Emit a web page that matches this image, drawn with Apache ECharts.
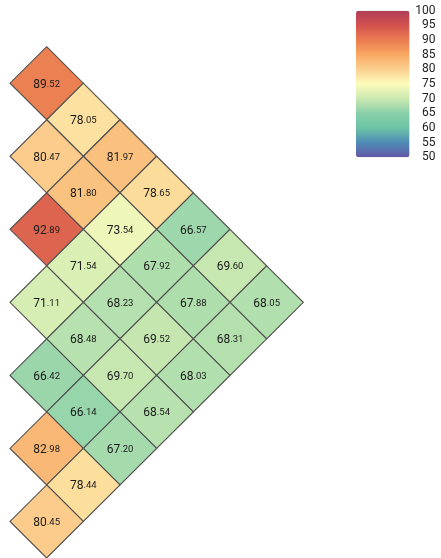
<!DOCTYPE html>
<html>
<head>
<meta charset="utf-8">
<script src="https://cdn.jsdelivr.net/npm/echarts@6/dist/echarts.min.js"></script>
<style>
html,body{margin:0;padding:0;background:#fff;}
#chart{width:441px;height:558px;}
</style>
</head>
<body>
<div id="chart"></div>
<script>
// Lower-triangular matrix values; row i holds columns j = 0..i
const row0 = [89.52];
const row1 = [78.05, 80.47];
const row2 = [81.97, 81.80, 92.89];
const row3 = [78.65, 73.54, 71.54, 71.11];
const row4 = [66.57, 67.92, 68.23, 68.48, 66.42];
const row5 = [69.60, 67.88, 69.52, 69.70, 66.14, 82.98];
const row6 = [68.05, 68.31, 68.03, 68.54, 67.20, 78.44, 80.45];
const rows = [row0, row1, row2, row3, row4, row5, row6];

const colorMin = 50;
const colorMax = 100;
const colorTickStep = 5;
const palette = ['#6358a5', '#4f8bb6', '#6cc3a5', '#88cfa9', '#cbe9b0', '#fdfcbd',
                 '#fbd08f', '#f8a863', '#ea7c50', '#d4524f', '#b03e58'];

const data = [];
rows.forEach(function (r, i) {
  r.forEach(function (v, j) { data.push([i, j, v]); });
});

const chart = echarts.init(document.getElementById('chart'), null, {renderer: 'canvas'});
const FONT = 'Roboto, "Liberation Sans", sans-serif';

chart.setOption({
  animation: false,
  backgroundColor: '#ffffff',
  grid: [
    {left: 10, top: 46.7, width: 293.3, height: 513.3},
    {left: 356, top: 10.7, width: 53.5, height: 146.6}
  ],
  xAxis: [
    {type: 'value', gridIndex: 0, min: -1, max: 7, show: false},
    {type: 'value', gridIndex: 1, min: 0, max: 1, show: false}
  ],
  yAxis: [
    {type: 'value', gridIndex: 0, min: -1, max: 13, inverse: true, show: false},
    {type: 'value', gridIndex: 1, min: colorMin, max: colorMax, interval: colorTickStep,
     position: 'right', axisLine: {show: false}, axisTick: {show: false}, splitLine: {show: false},
     axisLabel: {show: true, align: 'right', margin: 26, color: '#222', fontSize: 12, fontFamily: FONT}}
  ],
  visualMap: {
    type: 'continuous',
    min: colorMin, max: colorMax,
    dimension: 2,
    seriesIndex: 0,
    calculable: false,
    left: 356, top: 10.7,
    padding: 0,
    itemWidth: 53.5, itemHeight: 146.6,
    text: null,
    inRange: {color: palette},
    textStyle: {color: 'transparent'}
  },
  series: [{
    type: 'custom',
    xAxisIndex: 0, yAxisIndex: 0,
    data: data,
    renderItem: function (params, api) {
      const i = api.value(0), j = api.value(1), v = api.value(2);
      const dx = i - j, dy = i + j;
      const pts = [
        api.coord([dx, dy - 1]),
        api.coord([dx + 1, dy]),
        api.coord([dx, dy + 1]),
        api.coord([dx - 1, dy])
      ];
      const s = v.toFixed(2).split('.');
      return {
        type: 'polygon',
        shape: {points: pts},
        style: {fill: api.visual('color'), stroke: '#505050', lineWidth: 1.1},
        textContent: {
          style: {
            text: '{a|' + s[0] + '}{b|.' + s[1] + '}',
            rich: {
              a: {fontSize: 12, fontFamily: FONT, fill: '#1a1a1a', verticalAlign: 'bottom'},
              b: {fontSize: 9.5, fontFamily: FONT, fill: '#1a1a1a', verticalAlign: 'bottom', padding: [0, 0, 1.5, 0]}
            }
          }
        },
        textConfig: {position: 'inside', offset: [0, 1.5]}
      };
    }
  }]
});
</script>
</body>
</html>
